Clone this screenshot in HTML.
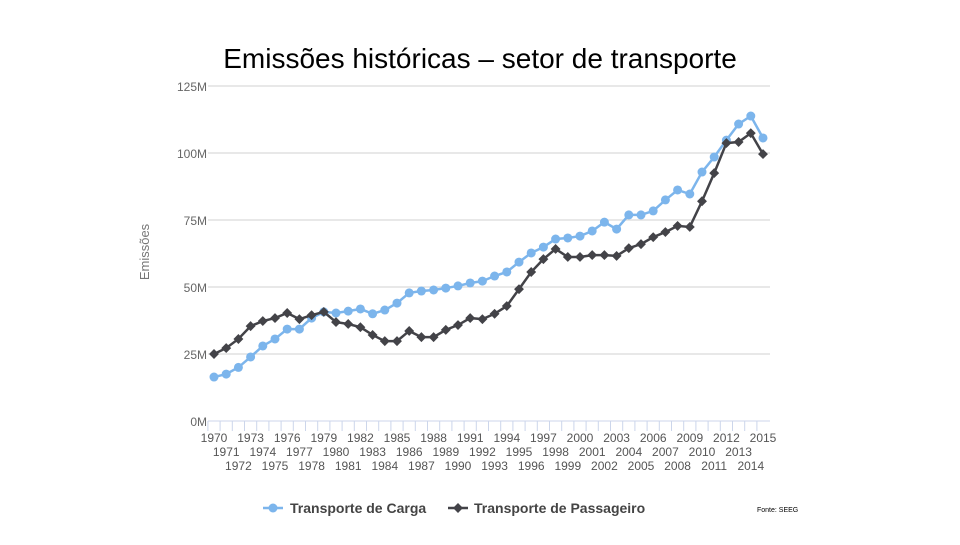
<!DOCTYPE html>
<html><head><meta charset="utf-8"><style>
body{margin:0;background:#fff;width:960px;height:540px;overflow:hidden;font-family:"Liberation Sans",sans-serif}
</style></head><body>
<svg id="chart" width="960" height="540" xmlns="http://www.w3.org/2000/svg">
<text x="480" y="68" text-anchor="middle" font-family="Liberation Sans Narrow, Liberation Sans, sans-serif" font-size="28" fill="#000">Emissões históricas – setor de transporte</text>
<text transform="translate(149,252) rotate(-90)" text-anchor="middle" font-size="13" fill="#777">Emissões</text>
<g id="grid"></g><g id="series"></g><g id="xaxis"></g>
<g>
<g>
<line x1="263" y1="508" x2="283" y2="508" stroke="#7cb5ec" stroke-width="2.5"/><circle cx="273" cy="508" r="4.5" fill="#7cb5ec"/>
<text x="290" y="513" font-size="14" font-weight="bold" fill="#444">Transporte de Carga</text></g>
<g>
<line x1="448" y1="508" x2="468" y2="508" stroke="#434348" stroke-width="2.5"/><rect x="454.5" y="504.5" width="7" height="7" fill="#434348" transform="rotate(45 458 508)"/>
<text x="474" y="513" font-size="14" font-weight="bold" fill="#444">Transporte de Passageiro</text></g>
</g>
<text x="757" y="512" font-size="7" fill="#000">Fonte: SEEG</text>
</svg>
<script>
const years=[];for(let y=1970;y<=2015;y++)years.push(y);
const carga=[16.4,17.5,20,23.9,28,30.6,34.3,34.3,38.4,40.7,40.3,41,41.8,40,41.4,44,47.8,48.5,48.9,49.6,50.4,51.5,52.2,54.1,55.6,59.3,62.7,64.9,67.9,68.3,69,70.9,74.2,71.6,76.9,76.9,78.4,82.5,86.2,84.7,92.9,98.5,104.8,110.8,113.8,105.6];
const passageiro=[25,27.2,30.6,35.4,37.3,38.4,40.3,38,39.5,40.7,36.9,36.2,35,32.1,29.8,29.8,33.6,31.3,31.3,34,35.8,38.4,38,40,42.9,49.2,55.6,60.4,64.2,61.2,61.2,61.9,61.9,61.6,64.5,66,68.6,70.5,72.8,72.4,82,92.5,103.7,104.1,107.4,99.6];
const yTicks=[0,25,50,75,100,125];
const NS="http://www.w3.org/2000/svg";
const x=i=>214+i*(549/45);
const y=v=>421-v*(335/125);
function mk(tag,attrs,parent){const e=document.createElementNS(NS,tag);for(const k in attrs)e.setAttribute(k,attrs[k]);parent.appendChild(e);return e;}
const grid=document.getElementById('grid'),ser=document.getElementById('series'),xa=document.getElementById('xaxis');
yTicks.forEach(t=>{
 const l=mk('line',{x1:208,x2:770,y1:y(t),y2:y(t),stroke:t===0?'#ccd6eb':'#d0d0d0','stroke-width':1},grid);
 
 
 const tx=mk('text',{x:207,y:y(t)+5,'text-anchor':'end','font-size':12,fill:'#666'},grid);tx.textContent=t+'M';
 
 
});
years.forEach((yr,i)=>{
 const tk=mk('line',{x1:x(i)-6.1,x2:x(i)-6.1,y1:421,y2:431,stroke:'#ccd6eb'},xa);
 
 
 const t=mk('text',{x:x(i),y:442+(i%3)*14,'text-anchor':'middle','font-size':12,fill:'#555'},xa);t.textContent=yr;
 
 
});
function draw(vals,color,shape,name){
 const p=mk('polyline',{points:vals.map((v,i)=>x(i)+','+y(v)).join(' '),fill:'none',stroke:color,'stroke-width':2.5},ser);
 
 
 vals.forEach((v,i)=>{
  let m;
  if(shape==='circle')m=mk('circle',{cx:x(i),cy:y(v),r:4.5,fill:color},ser);
  else m=mk('rect',{x:x(i)-3.5,y:y(v)-3.5,width:7,height:7,fill:color,transform:`rotate(45 ${x(i)} ${y(v)})`},ser);
  
  
 });
}
draw(carga,'#7cb5ec','circle','carga');
draw(passageiro,'#434348','diamond','passageiro');
</script>
</body></html>
